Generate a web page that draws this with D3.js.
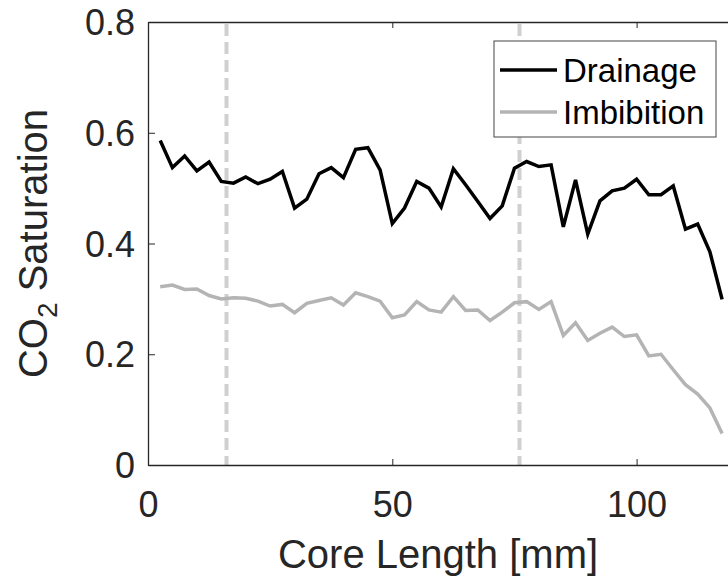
<!DOCTYPE html>
<html>
<head>
<meta charset="utf-8">
<script src="https://cdn.jsdelivr.net/npm/d3@7"></script>
<style>
  html, body { margin: 0; padding: 0; background: #fff; }
  svg { display: block; font-family: "Liberation Sans", Arial, Helvetica, sans-serif; }
</style>
</head>
<body>
<svg id="chart" width="728" height="580"></svg>
<script>
const coreLength = [2.5, 5, 7.5, 10, 12.5, 15, 17.5, 20, 22.5, 25,
  27.5, 30, 32.5, 35, 37.5, 40, 42.5, 45, 47.5, 50,
  52.5, 55, 57.5, 60, 62.5, 65, 67.5, 70, 72.5, 75,
  77.5, 80, 82.5, 85, 87.5, 90, 92.5, 95, 97.5, 100,
  102.5, 105, 107.5, 110, 112.5, 115, 117.5];
const drainage = [0.586, 0.537, 0.558, 0.531, 0.547, 0.512, 0.509, 0.520, 0.508, 0.516,
  0.530, 0.464, 0.480, 0.526, 0.537, 0.519, 0.570, 0.573, 0.533, 0.436,
  0.464, 0.512, 0.500, 0.466, 0.535, 0.506, 0.476, 0.445, 0.468, 0.536,
  0.548, 0.539, 0.542, 0.430, 0.515, 0.417, 0.477, 0.495, 0.500, 0.516,
  0.488, 0.488, 0.504, 0.426, 0.435, 0.385, 0.299];
const imbibition = [0.322, 0.325, 0.317, 0.318, 0.306, 0.300, 0.302, 0.301, 0.296, 0.287,
  0.290, 0.275, 0.292, 0.297, 0.302, 0.289, 0.311, 0.304, 0.296, 0.266,
  0.271, 0.295, 0.280, 0.276, 0.304, 0.279, 0.280, 0.261, 0.276, 0.293,
  0.295, 0.281, 0.295, 0.234, 0.257, 0.225, 0.238, 0.249, 0.232, 0.235,
  0.197, 0.200, 0.172, 0.145, 0.128, 0.103, 0.057];
const markers = [16, 76];
const xTicks = [0, 50, 100];
const yTicks = [0, 0.2, 0.4, 0.6, 0.8];
const seriesNames = ["Drainage", "Imbibition"];

const svg = d3.select("#chart");
const mLeft = 148, mTop = 22, mBottom = 465;
const x = d3.scaleLinear().domain([0, 120]).range([mLeft, mLeft + 120 * 4.886]);
const y = d3.scaleLinear().domain([0, 0.8]).range([mBottom, mTop]);
const axisColor = "#262626";

// marker dashed lines
svg.selectAll(".marker").data(markers).enter().append("line")
  .attr("x1", d => Math.round(x(d)) + 0.5).attr("x2", d => Math.round(x(d)) + 0.5)
  .attr("y1", y(0.8) + 2).attr("y2", y(0))
  .attr("stroke", "#d0d0d0").attr("stroke-width", 4)
  .attr("stroke-dasharray", "12,6");

// data lines
const line = vals => d3.line().x((d, i) => x(coreLength[i])).y(d => y(d))(vals);
svg.append("path").attr("d", line(imbibition)).attr("fill", "none")
  .attr("stroke", "#b4b4b4").attr("stroke-width", 3.5).attr("stroke-linejoin", "miter");
svg.append("path").attr("d", line(drainage)).attr("fill", "none")
  .attr("stroke", "#000").attr("stroke-width", 3.5).attr("stroke-linejoin", "miter");

// axes
const xAxis = svg.append("g").attr("transform", `translate(0,${mBottom})`)
  .call(d3.axisBottom(x).tickValues(xTicks).tickFormat(d3.format("d"))
    .tickSizeInner(-6).tickSizeOuter(0).tickPadding(26));
const xTop = svg.append("g").attr("transform", `translate(0,${mTop})`)
  .call(d3.axisTop(x).tickValues(xTicks).tickFormat("")
    .tickSizeInner(-6).tickSizeOuter(0));
const yAxis = svg.append("g").attr("transform", `translate(${mLeft},0)`)
  .call(d3.axisLeft(y).tickValues(yTicks).tickFormat(d => d === 0 ? "0" : d3.format(".1f")(d))
    .tickSizeInner(-7).tickSizeOuter(0).tickPadding(13));
[xAxis, xTop, yAxis].forEach(g => {
  g.select(".domain").attr("stroke", axisColor).attr("stroke-width", 1.3);
  g.selectAll(".tick line").attr("stroke", axisColor).attr("stroke-width", 1);
  g.selectAll(".tick text").attr("fill", axisColor).attr("font-size", 36)
    .attr("font-family", "Liberation Sans, Arial, sans-serif");
});
xAxis.selectAll(".tick text").attr("dy", "0.71em");
yAxis.selectAll(".tick text").attr("dy", "0.35em");

// axis labels
svg.append("text").attr("x", 438).attr("y", 568).attr("text-anchor", "middle")
  .attr("font-size", 40).attr("fill", axisColor).text("Core Length [mm]");
const yl = svg.append("text")
  .attr("transform", `translate(47,${(mTop + mBottom) / 2}) rotate(-90)`)
  .attr("text-anchor", "middle").attr("font-size", 40).attr("fill", axisColor);
yl.append("tspan").text("CO");
yl.append("tspan").attr("font-size", 28).attr("dy", 10).text("2");
yl.append("tspan").attr("dy", -10).text(" Saturation");

// legend
const lg = svg.append("g");
lg.append("rect").attr("x", 494).attr("y", 41).attr("width", 222).attr("height", 96)
  .attr("fill", "#fff").attr("stroke", "#444").attr("stroke-width", 1);
const legColors = ["#000", "#b4b4b4"];
seriesNames.forEach((name, i) => {
  const cy = 70 + i * 42;
  lg.append("line").attr("x1", 500).attr("x2", 557).attr("y1", cy).attr("y2", cy)
    .attr("stroke", legColors[i]).attr("stroke-width", 3.5);
  lg.append("text").attr("x", 563).attr("y", cy).attr("dy", "0.35em")
    .attr("font-size", 33).attr("fill", "#000").text(name);
});
</script>
</body>
</html>
